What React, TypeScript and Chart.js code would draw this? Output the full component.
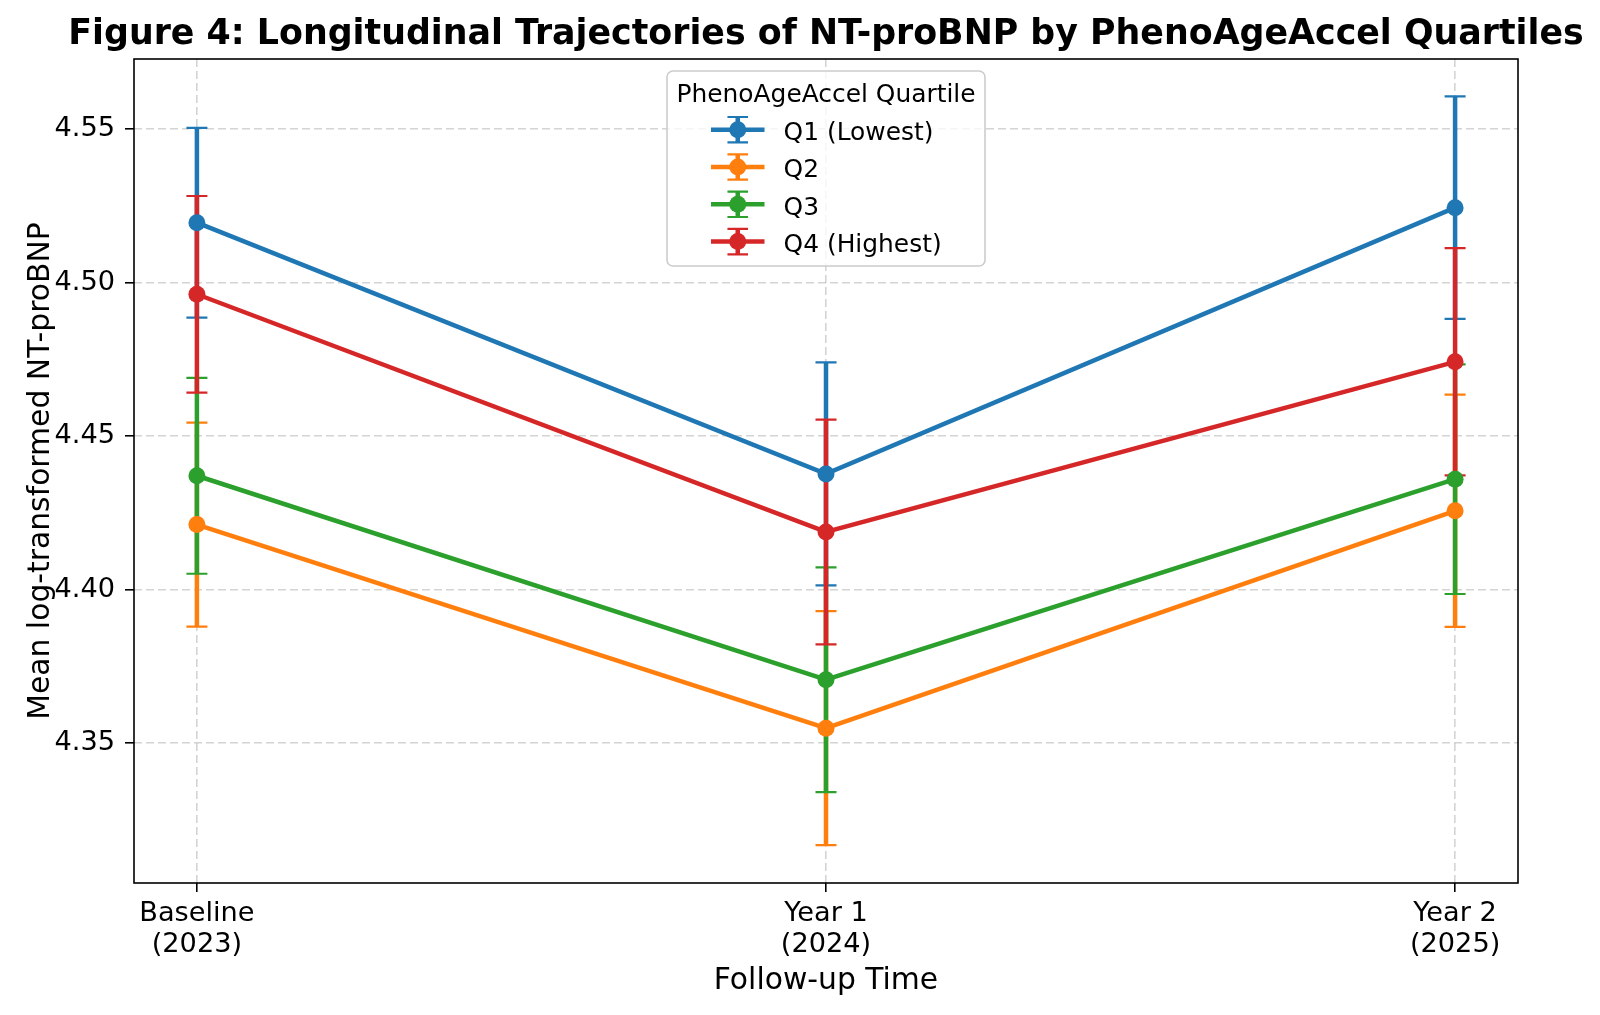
import React, { useEffect, useRef } from 'react';
import { Chart, registerables } from 'chart.js';

Chart.register(...registerables);

const FONT = "'DejaVu Sans', sans-serif";

const categories = [
  ['Baseline', '(2023)'],
  ['Year 1', '(2024)'],
  ['Year 2', '(2025)'],
];
const yTicks = [4.35, 4.4, 4.45, 4.5, 4.55];

const seriesNames = ['Q1 (Lowest)', 'Q2', 'Q3', 'Q4 (Highest)'];
const seriesColors = ['#1f77b4', '#ff7f0e', '#2ca02c', '#d62728'];

const q1Means = [4.5195, 4.4377, 4.5244];
const q1Errors = [0.0309, 0.0363, 0.0362];
const q2Means = [4.4212, 4.3549, 4.4257];
const q2Errors = [0.0332, 0.0381, 0.0378];
const q3Means = [4.4371, 4.3707, 4.436];
const q3Errors = [0.0319, 0.0366, 0.0374];
const q4Means = [4.4962, 4.4188, 4.4742];
const q4Errors = [0.032, 0.0366, 0.037];

const allMeans = [q1Means, q2Means, q3Means, q4Means];
const allErrors = [q1Errors, q2Errors, q3Errors, q4Errors];

// vertical error bars with caps, drawn under all the lines
const errorBarPlugin = {
  id: 'errorBars',
  beforeDatasetsDraw(chart: any) {
    const { ctx, chartArea, scales } = chart;
    ctx.save();
    ctx.beginPath();
    ctx.rect(chartArea.left, chartArea.top, chartArea.width, chartArea.height);
    ctx.clip();
    chart.data.datasets.forEach((ds: any) => {
      ds.data.forEach((pt: any, j: number) => {
        const err = ds.errors[j];
        const x = scales.x.getPixelForValue(pt.x);
        const yTop = scales.y.getPixelForValue(pt.y + err);
        const yBot = scales.y.getPixelForValue(pt.y - err);
        ctx.strokeStyle = ds.borderColor;
        ctx.lineWidth = 4.5;
        ctx.beginPath();
        ctx.moveTo(x, yTop);
        ctx.lineTo(x, yBot);
        ctx.stroke();
        ctx.lineWidth = 2.2;
        ctx.beginPath();
        ctx.moveTo(x - 10.5, yTop);
        ctx.lineTo(x + 10.5, yTop);
        ctx.moveTo(x - 10.5, yBot);
        ctx.lineTo(x + 10.5, yBot);
        ctx.stroke();
      });
    });
    ctx.restore();
  },
};

// axes frame, title and the legend box inside the plot
const decorPlugin = {
  id: 'decor',
  afterDraw(chart: any) {
    const { ctx, chartArea } = chart;
    const cx = (chartArea.left + chartArea.right) / 2;
    ctx.save();

    ctx.strokeStyle = '#000';
    ctx.lineWidth = 1.6;
    ctx.strokeRect(chartArea.left, chartArea.top, chartArea.width, chartArea.height);

    ctx.fillStyle = '#000';
    ctx.font = `bold 34.8px ${FONT}`;
    ctx.textAlign = 'center';
    ctx.textBaseline = 'alphabetic';
    ctx.fillText('Figure 4: Longitudinal Trajectories of NT-proBNP by PhenoAgeAccel Quartiles', cx, 44);

    // legend
    const boxW = 318;
    const boxX = cx - boxW / 2;
    const boxY = 71;
    const boxH = 195;
    ctx.beginPath();
    ctx.roundRect(boxX, boxY, boxW, boxH, 6);
    ctx.fillStyle = 'rgba(255,255,255,0.8)';
    ctx.fill();
    ctx.strokeStyle = '#cccccc';
    ctx.lineWidth = 1.6;
    ctx.stroke();

    ctx.fillStyle = '#000';
    ctx.font = `24.9px ${FONT}`;
    ctx.textAlign = 'center';
    ctx.fillText('PhenoAgeAccel Quartile', cx, 101.7);

    chart.data.datasets.forEach((ds: any, i: number) => {
      const y = 129.7 + i * 37.3;
      const gx0 = boxX + 44;
      const gx1 = boxX + 97.5;
      const gm = (gx0 + gx1) / 2;
      ctx.strokeStyle = ds.borderColor;
      ctx.fillStyle = ds.borderColor;
      ctx.lineWidth = 4.5;
      ctx.beginPath();
      ctx.moveTo(gx0, y);
      ctx.lineTo(gx1, y);
      ctx.moveTo(gm, y - 12.7);
      ctx.lineTo(gm, y + 12.7);
      ctx.stroke();
      ctx.lineWidth = 2.2;
      ctx.beginPath();
      ctx.moveTo(gm - 10.3, y - 12.7);
      ctx.lineTo(gm + 10.3, y - 12.7);
      ctx.moveTo(gm - 10.3, y + 12.7);
      ctx.lineTo(gm + 10.3, y + 12.7);
      ctx.stroke();
      ctx.beginPath();
      ctx.arc(gm, y, 8.5, 0, Math.PI * 2);
      ctx.fill();
      ctx.fillStyle = '#000';
      ctx.textAlign = 'left';
      ctx.fillText(ds.label, boxX + 116.6, y + 10.4);
    });

    ctx.restore();
  },
};

const App = () => {
  const canvasRef = useRef<HTMLCanvasElement>(null);
  const chartRef = useRef<Chart | null>(null);

  useEffect(() => {
    if (!canvasRef.current) return;
    if (chartRef.current) chartRef.current.destroy();

    const datasets = seriesNames.map((name, i) => ({
      label: name,
      data: allMeans[i].map((v, j) => ({ x: j, y: v })),
      errors: allErrors[i],
      borderColor: seriesColors[i],
      backgroundColor: seriesColors[i],
      pointBackgroundColor: seriesColors[i],
      borderWidth: 4.5,
      pointRadius: 8.5,
      pointBorderWidth: 0,
      pointHoverRadius: 8.5,
      tension: 0,
      fill: false,
      order: seriesNames.length - i,
    }));

    chartRef.current = new Chart(canvasRef.current, {
      type: 'line',
      data: { datasets } as any,
      options: {
        animation: false,
        responsive: true,
        maintainAspectRatio: false,
        layout: { padding: { top: 59, right: 82, bottom: 0, left: 0 } },
        plugins: {
          legend: { display: false },
          title: { display: false },
          tooltip: { enabled: false },
        },
        scales: {
          x: {
            type: 'linear',
            min: -0.1,
            max: 2.1,
            afterBuildTicks: (scale: any) => {
              scale.ticks = categories.map((_, i) => ({ value: i }));
            },
            afterFit: (scale: any) => {
              scale.height = 132;
            },
            ticks: {
              callback: (value: any) => categories[Math.round(Number(value))],
              color: '#000',
              padding: 7,
              maxRotation: 0,
              autoSkip: false,
              font: { family: FONT, size: 27.2, lineHeight: 1.13 },
            },
            grid: {
              color: 'rgba(176,176,176,0.55)',
              lineWidth: 1.6,
              tickColor: '#000',
              tickLength: 9,
              tickWidth: 1.6,
            },
            border: { display: false, dash: [8, 4] },
            title: {
              display: true,
              text: 'Follow-up Time',
              color: '#000',
              padding: { top: 0, bottom: 16 },
              font: { family: FONT, size: 29.8, lineHeight: 1.2 },
            },
          },
          y: {
            type: 'linear',
            min: 4.3045,
            max: 4.5728,
            afterBuildTicks: (scale: any) => {
              scale.ticks = yTicks.map((v) => ({ value: v }));
            },
            afterFit: (scale: any) => {
              scale.width = 134;
            },
            ticks: {
              callback: (value: any) => Number(value).toFixed(2),
              color: '#000',
              padding: 10,
              font: { family: FONT, size: 27.2 },
            },
            grid: {
              color: 'rgba(176,176,176,0.55)',
              lineWidth: 1.6,
              tickColor: '#000',
              tickLength: 9,
              tickWidth: 1.6,
            },
            border: { display: false, dash: [8, 4] },
            title: {
              display: true,
              text: 'Mean log-transformed NT-proBNP',
              color: '#000',
              padding: { top: 23, bottom: 0 },
              font: { family: FONT, size: 29.8, lineHeight: 1.2 },
            },
          },
        },
      } as any,
      plugins: [errorBarPlugin, decorPlugin],
    });

    return () => {
      if (chartRef.current) {
        chartRef.current.destroy();
        chartRef.current = null;
      }
    };
  }, []);

  return (
    <div style={{ position: 'fixed', left: 0, top: 0, width: 1600, height: 1015, background: '#fff' }}>
      <canvas ref={canvasRef}></canvas>
    </div>
  );
};

export default App;
